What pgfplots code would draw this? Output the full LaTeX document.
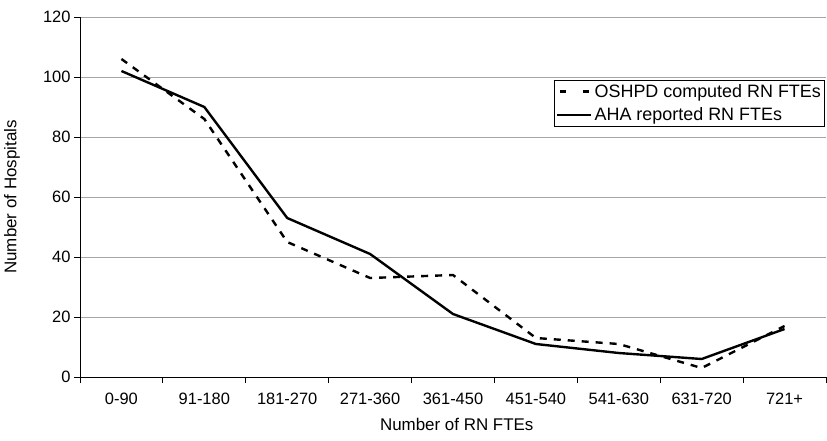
\documentclass[border=0pt]{standalone}
\usepackage{pgfplots}
\pgfplotsset{compat=1.18}
\usepackage{fontspec}
\setmainfont{Liberation Sans}

\begin{document}
\begin{tikzpicture}
\begin{axis}[
    scale only axis,
    width=746bp, height=360bp,
    xmin=-0.5, xmax=8.5,
    ymin=0, ymax=120,
    ytick={0,20,...,120},
    xtick={-0.5,0.5,...,8.5},
    x tick label as interval,
    xticklabels={0-90,91-180,181-270,271-360,361-450,451-540,541-630,631-720,721+},
    axis x line*=bottom, axis y line*=left,
    axis line style={black, line width=0.8pt},
    tick style={black, line width=0.8pt},
    tick align=outside,
    major tick length=6bp,
    ymajorgrids,
    grid style={gray!70, line width=0.8pt},
    xlabel={Number of RN FTEs},
    ylabel={Number of Hospitals},
    xlabel style={at={(axis description cs:0.505,-0.133)}, anchor=center},
    ylabel style={at={(axis description cs:-0.091,0.5)}, anchor=center},
    xticklabel style={yshift=-6bp},
    /pgf/number format/assume math mode=true,
    tick label style={font=\fontsize{16.5}{18}\selectfont},
    label style={font=\fontsize{17}{19}\selectfont},
    legend style={at={(0.999,0.825)}, anchor=north east, draw=black,
        line width=0.8pt, font=\fontsize{18}{20}\selectfont,
        inner sep=2pt, row sep=5pt, cells={anchor=west}},
    legend cell align=left,
    legend image code/.code={\draw[#1, line width=2.6pt] (0bp,0bp) -- (34bp,0bp);},
]
\addplot[black, line width=2.4pt, dash pattern=on 7bp off 7bp,
    legend image code/.code={\draw[black, line width=2.6pt,
        dash pattern=on 6bp off 17bp, dash phase=-3bp] (0bp,0bp) -- (34bp,0bp);}]
    coordinates {
    (0,106) (1,86) (2,45) (3,33) (4,34) (5,13) (6,11) (7,3) (8,17)};
\addlegendentry{OSHPD computed RN FTEs}
\addplot[black, line width=2.4pt] coordinates {
    (0,102) (1,90) (2,53) (3,41) (4,21) (5,11) (6,8) (7,6) (8,16)};
\addlegendentry{AHA reported RN FTEs}
\end{axis}
\path (current axis.south west) ++(-80bp,-63bp) coordinate (bbA);
\path (current axis.north east) ++(1bp,17bp) coordinate (bbB);
\path (bbA) rectangle (bbB);
\end{tikzpicture}
\end{document}
